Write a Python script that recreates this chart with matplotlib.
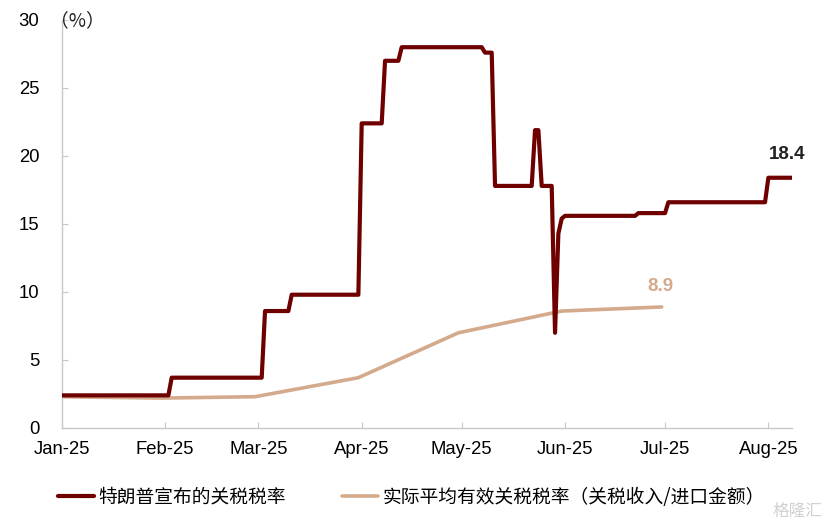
import matplotlib
matplotlib.use("Agg")
import matplotlib.pyplot as plt
import matplotlib.dates as mdates
import pandas as pd

plt.rcParams['font.family'] = ['Liberation Sans', 'Noto Sans CJK SC', 'DejaVu Sans']

# Announced tariff rate (daily change points)
red_dates = ["2025-01-01", "2025-02-02", "2025-02-03", "2025-03-02", "2025-03-03",
             "2025-03-10", "2025-03-11", "2025-03-31", "2025-04-01", "2025-04-07",
             "2025-04-08", "2025-04-12", "2025-04-13", "2025-05-07", "2025-05-08",
             "2025-05-10", "2025-05-11", "2025-05-22", "2025-05-23", "2025-05-24",
             "2025-05-25", "2025-05-28", "2025-05-29", "2025-05-30", "2025-05-31",
             "2025-06-01", "2025-06-22", "2025-06-23", "2025-07-01", "2025-07-02",
             "2025-07-31", "2025-08-01", "2025-08-08"]
red_values = [2.4, 2.4, 3.7, 3.7, 8.6,
              8.6, 9.8, 9.8, 22.4, 22.4,
              27.0, 27.0, 28.0, 28.0, 27.6,
              27.6, 17.8, 17.8, 21.9, 21.9,
              17.8, 17.8, 7.0, 14.3, 15.4,
              15.6, 15.6, 15.8, 15.8, 16.6,
              16.6, 18.4, 18.4]

# Effective average tariff rate (monthly)
tan_dates = ["2024-12-31", "2025-01-31", "2025-02-28", "2025-03-31",
             "2025-04-30", "2025-05-31", "2025-06-30"]
tan_values = [2.3, 2.2, 2.3, 3.7, 7.0, 8.6, 8.9]

x_ticks = ["2025-01-01", "2025-02-01", "2025-03-01", "2025-04-01",
           "2025-05-01", "2025-06-01", "2025-07-01", "2025-08-01"]
x_labels = ["Jan-25", "Feb-25", "Mar-25", "Apr-25", "May-25", "Jun-25", "Jul-25", "Aug-25"]
y_ticks = [0, 5, 10, 15, 20, 25, 30]

red_name = "特朗普宣布的关税税率"
tan_name = "实际平均有效关税税率（关税收入/进口金额）"

RED = "#6E0000"
TAN = "#D4AA8C"
SPINE = "#C8C8C8"

fig = plt.figure(figsize=(8.28, 5.27), dpi=100)
ax = fig.add_axes([61.7 / 828, 1 - 428 / 527, (791.7 - 61.7) / 828, (428 - 20) / 527])

rd = pd.to_datetime(red_dates)
td = pd.to_datetime(tan_dates)
ax.plot(td, tan_values, color=TAN, lw=2.6, solid_joinstyle='round', solid_capstyle='round',
        label=tan_name, zorder=2)
ax.plot(rd, red_values, color=RED, lw=3.0, solid_joinstyle='round', solid_capstyle='round',
        label=red_name, zorder=3)

ax.set_xlim(pd.Timestamp("2025-01-01"), pd.Timestamp("2025-08-08"))
ax.set_ylim(0, 30)
ax.set_yticks(y_ticks)
ax.set_xticks(pd.to_datetime(x_ticks))
ax.set_xticklabels(x_labels)

for s in ["top", "right"]:
    ax.spines[s].set_visible(False)
for s in ["left", "bottom"]:
    ax.spines[s].set_color(SPINE)
    ax.spines[s].set_linewidth(1.0)

ax.tick_params(axis='y', direction='in', length=4, color=SPINE, labelsize=13.3, pad=16)
ax.tick_params(axis='x', direction='in', length=4, color=SPINE, labelsize=13.3, pad=9)

# value labels
ax.annotate(f"{red_values[-1]:.1f}", xy=(rd[-1], red_values[-1]), xytext=(-3, 16.5),
            textcoords='offset points', ha='center', va='center',
            fontsize=13.5, fontweight='bold', color='#222222')
ax.annotate(f"{tan_values[-1]:.1f}", xy=(td[-1], tan_values[-1]), xytext=(-0.7, 15),
            textcoords='offset points', ha='center', va='center',
            fontsize=13.5, fontweight='bold', color=TAN)

# unit label
fig.text(50 / 828, 1 - 21 / 527, "（%）", fontsize=13.5, family=['Noto Sans CJK SC', 'DejaVu Sans'],
         ha='left', va='center', color='#222222')

# legend
handles, labels = ax.get_legend_handles_labels()
order = [1, 0]
fig.legend([handles[i] for i in order], [labels[i] for i in order],
           loc='center left', bbox_to_anchor=(58 / 828, 1 - 497 / 527), ncol=2,
           frameon=False, borderpad=0, borderaxespad=0, handlelength=1.9,
           handletextpad=0.25, columnspacing=3.0,
           prop={'family': ['Noto Sans CJK SC', 'DejaVu Sans'], 'size': 13.5})

# watermark
fig.text(822 / 828, 1 - 511 / 527, "格隆汇", fontsize=12, family=['Noto Sans CJK SC'],
         ha='right', va='center', color='#D0D0D0')

fig.savefig("out.png", dpi=100)
